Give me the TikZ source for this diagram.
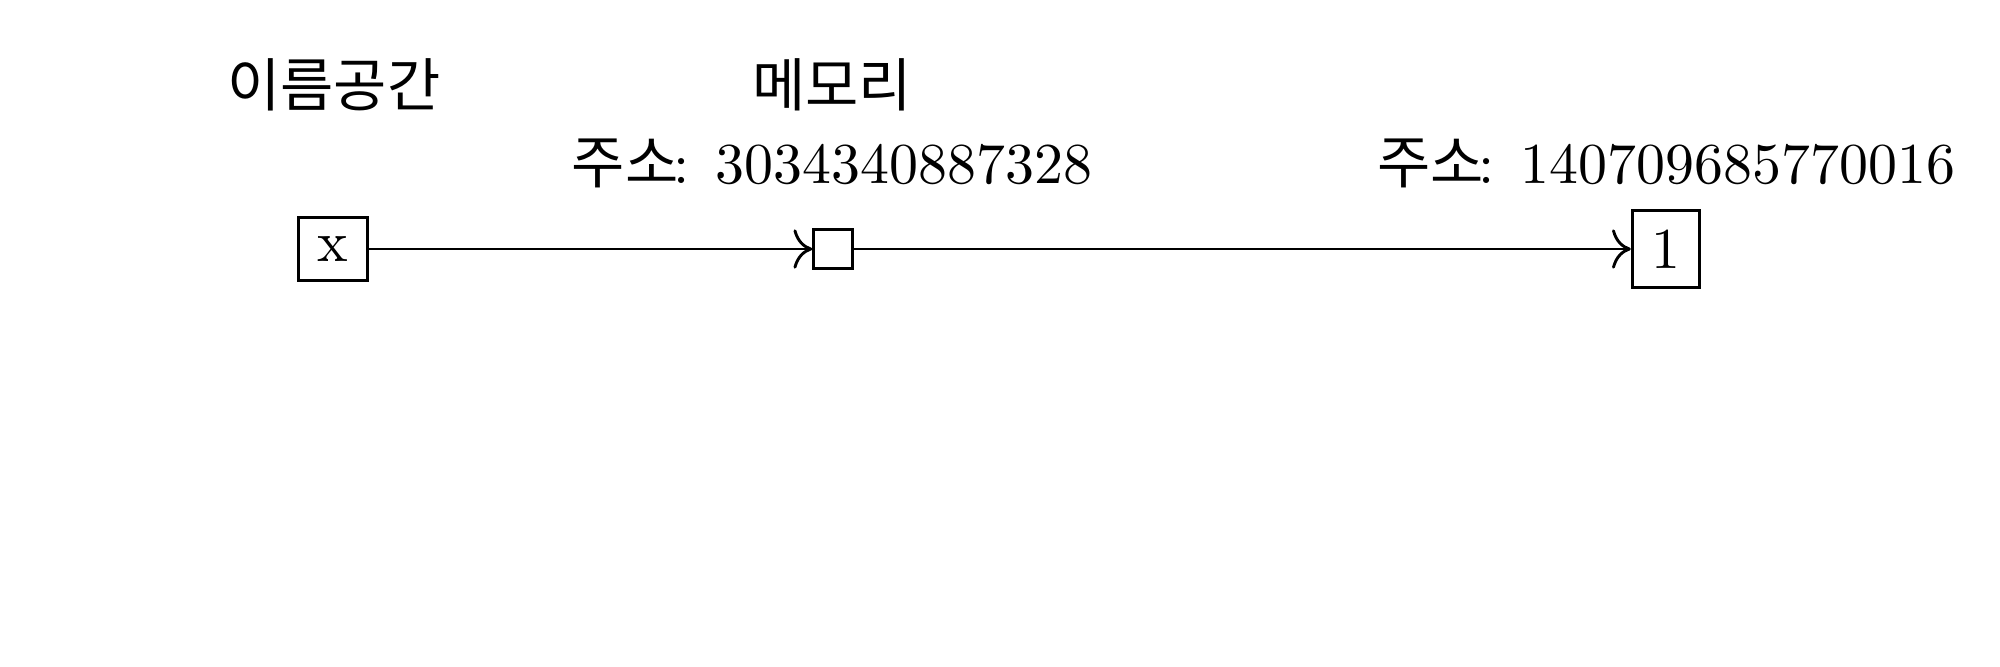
\documentclass[tikz,border=0pt]{standalone}
\usepackage{fontspec}
\usetikzlibrary{arrows.meta}
\newfontfamily\kr{Noto Sans CJK KR}
\tikzset{
  lbl/.style={inner sep=0pt, anchor=center},
  cell/.style={draw, line width=0.5pt, inner sep=3.333pt},
  link/.style={-{To[scale=1.2]}, line width=0.5pt},
}
\begin{document}
\begin{tikzpicture}[x=0.17271pt, y=-0.17271pt]
\useasboundingbox (0,0) rectangle (2000,666);
\node[lbl] (ns) at (334,85) {\kr 이름공간};
\node[lbl] (mem) at (832,85) {\kr 메모리};
\node[lbl] (a1) at (832,163) {{\kr 주소}\kern-0.8pt: 3034340887328};
\node[lbl] (a2) at (1666,163) {{\kr 주소}\kern-0.8pt: 140709685770016};
\node[cell] (x) at (333,249) {x};
\node[cell] (m) at (833,249) {};
\node[cell] (one) at (1666,249) {1};
\draw[link] (x) -- (m);
\draw[link] (m) -- (one);
\end{tikzpicture}
\end{document}
